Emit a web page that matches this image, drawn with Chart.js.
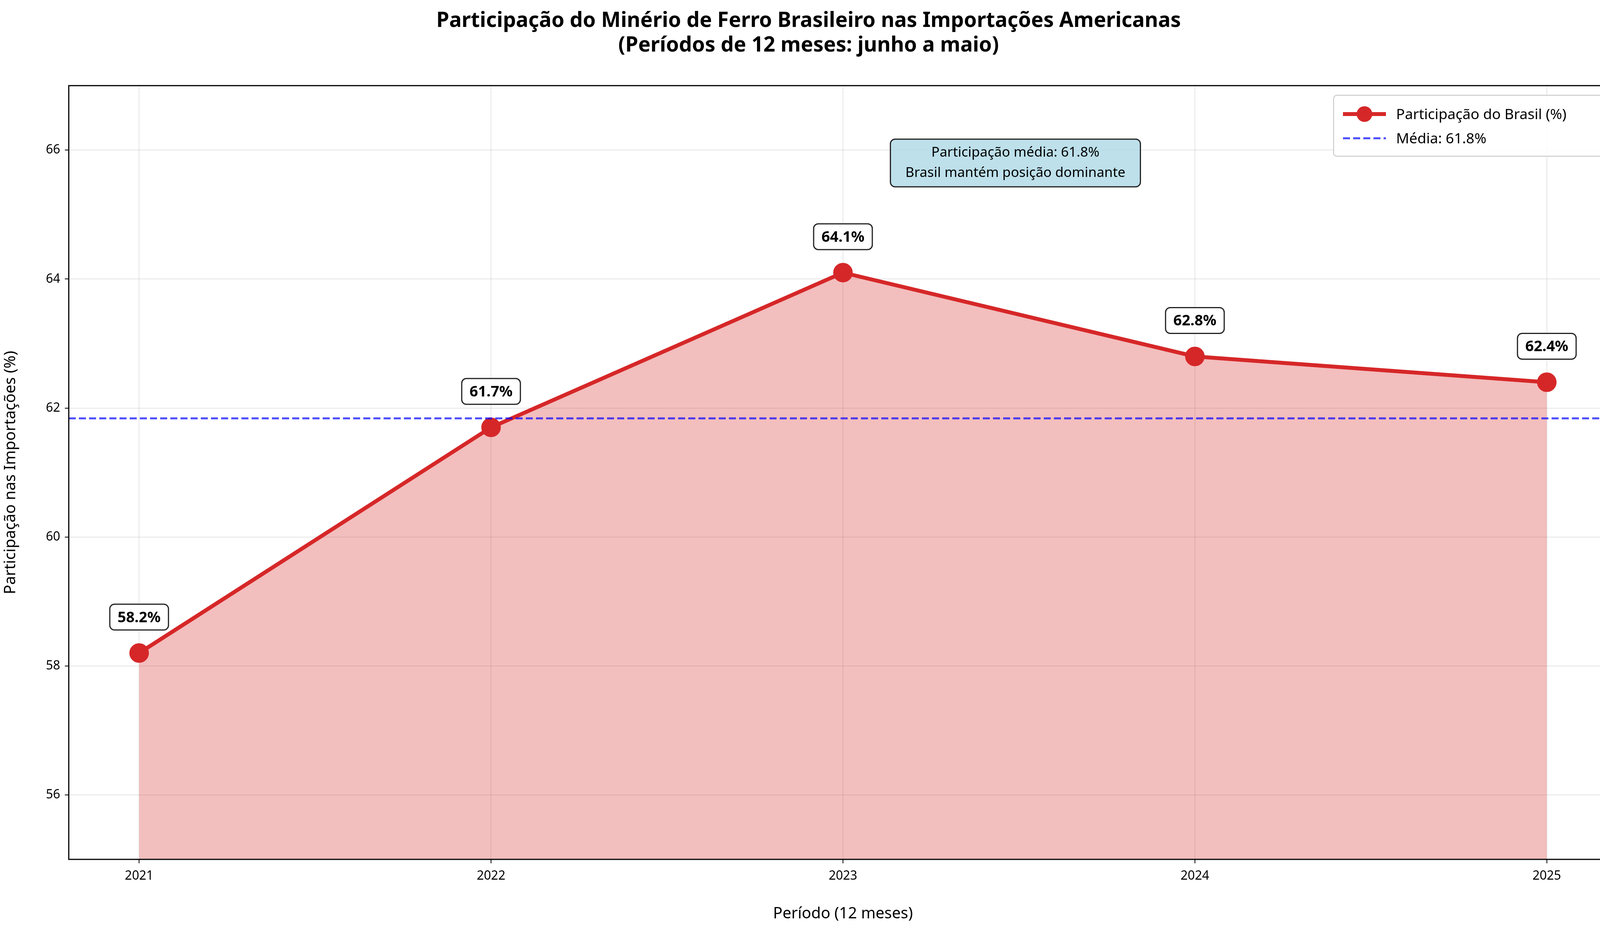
<!DOCTYPE html>
<html lang="pt">
<head>
<meta charset="UTF-8">
<title>Participação do Minério de Ferro Brasileiro</title>
<script src="https://cdn.jsdelivr.net/npm/chart.js"></script>
<style>html,body{margin:0;padding:0;background:#fff;overflow:hidden}canvas{display:block}</style>
</head>
<body>
<canvas id="myChart" width="4172" height="2368"></canvas>
<script>
// data
const periods = [2021, 2022, 2023, 2024, 2025];
const shares = [58.2, 61.7, 64.1, 62.8, 62.4];
const average = 61.84;
const yTicks = [56, 58, 60, 62, 64, 66];

const FONT = "'Noto Sans', 'DejaVu Sans', sans-serif";

// labels, annotation box, legend
const extras = {
    id: 'extras',
    afterDatasetsDraw(chart) {
        const ctx = chart.ctx;
        const xs = chart.scales.x, ys = chart.scales.y;
        const roundBox = (cx, cy, w, h, fill) => {
            ctx.beginPath();
            ctx.roundRect(cx - w / 2, cy - h / 2, w, h, 12);
            ctx.fillStyle = fill; ctx.fill();
            ctx.lineWidth = 3; ctx.strokeStyle = '#222'; ctx.stroke();
        };
        ctx.save();
        ctx.font = 'bold 38px ' + FONT;
        ctx.textAlign = 'center'; ctx.textBaseline = 'middle';
        shares.forEach((v, i) => {
            const px = xs.getPixelForValue(i), py = ys.getPixelForValue(v) - 92;
            const t = v.toFixed(1) + '%';
            const w = ctx.measureText(t).width + 40;
            roundBox(px, py, w, 66, '#fff');
            ctx.fillStyle = '#000'; ctx.fillText(t, px, py + 2);
        });
        // annotation
        const ax = xs.getPixelForValue(2.49), ay = ys.getPixelForValue(65.8);
        ctx.font = '35px ' + FONT;
        roundBox(ax, ay, 640, 122, 'rgba(173,216,230,0.8)');
        ctx.fillStyle = '#000';
        ctx.fillText('Participação média: ' + average.toFixed(1) + '%', ax, ay - 26);
        ctx.fillText('Brasil mantém posição dominante', ax, ay + 26);
        // legend
        const lx = 3414, ly = 244, lw = 704, lh = 156;
        ctx.beginPath(); ctx.roundRect(lx, ly, lw, lh, 8);
        ctx.fillStyle = 'rgba(255,255,255,0.85)'; ctx.fill();
        ctx.lineWidth = 2.5; ctx.strokeStyle = '#ccc'; ctx.stroke();
        ctx.textAlign = 'left'; ctx.font = '37px ' + FONT;
        let y1 = ly + 48;
        ctx.strokeStyle = '#d62728'; ctx.lineWidth = 10;
        ctx.beginPath(); ctx.moveTo(lx + 24, y1); ctx.lineTo(lx + 134, y1); ctx.stroke();
        ctx.beginPath(); ctx.arc(lx + 79, y1, 20, 0, Math.PI * 2); ctx.fillStyle = '#d62728'; ctx.fill();
        ctx.fillStyle = '#000'; ctx.fillText('Participação do Brasil (%)', lx + 160, y1 + 2);
        let y2 = ly + 110;
        ctx.strokeStyle = 'rgba(0,0,255,0.7)'; ctx.lineWidth = 5; ctx.setLineDash([18, 8]);
        ctx.beginPath(); ctx.moveTo(lx + 24, y2); ctx.lineTo(lx + 134, y2); ctx.stroke();
        ctx.setLineDash([]);
        ctx.fillStyle = '#000'; ctx.fillText('Média: ' + average.toFixed(1) + '%', lx + 160, y2 + 2);
        // frame
        const a = chart.chartArea;
        ctx.strokeStyle = '#000'; ctx.lineWidth = 3;
        ctx.strokeRect(a.left, a.top, a.right - a.left, a.bottom - a.top);
        ctx.restore();
    }
};

const ctx = document.getElementById('myChart').getContext('2d');
new Chart(ctx, {
    type: 'line',
    data: {
        datasets: [{
            label: 'Participação do Brasil (%)',
            data: shares.map((v, i) => ({x: i, y: v})),
            borderColor: '#d62728',
            backgroundColor: 'rgba(214,39,40,0.3)',
            pointBackgroundColor: '#d62728',
            pointBorderColor: '#d62728',
            pointRadius: 20,
            borderWidth: 10,
            fill: 'start',
            order: 1
        }, {
            label: 'Média: ' + average.toFixed(1) + '%',
            data: [{x: -0.2, y: average}, {x: 4.2, y: average}],
            borderColor: 'rgba(0,0,255,0.7)',
            borderWidth: 5,
            borderDash: [18, 8],
            pointRadius: 0,
            fill: false,
            order: 0
        }]
    },
    options: {
        responsive: false,
        animation: false,
        layout: {padding: {left: 0, right: 32, top: 0, bottom: 0}},
        plugins: {
            legend: {display: false},
            tooltip: {enabled: false},
            title: {
                display: true,
                text: ['Participação do Minério de Ferro Brasileiro nas Importações Americanas',
                       '(Períodos de 12 meses: junho a maio)'],
                font: {family: FONT, size: 53, weight: 'bold'},
                color: '#000',
                padding: {top: 22, bottom: 70},
                lineHeight: 1.2
            }
        },
        scales: {
            x: {
                type: 'linear', min: -0.2, max: 4.2,
                afterBuildTicks: s => { s.ticks = periods.map((p, i) => ({value: i})); },
                ticks: {callback: (v) => periods[v], font: {family: FONT, size: 32}, color: '#000', padding: 14},
                grid: {color: 'rgba(0,0,0,0.1)', lineWidth: 2, tickLength: 10, tickColor: '#000'},
                border: {display: false},
                title: {display: true, text: 'Período (12 meses)', font: {family: FONT, size: 40}, color: '#000', padding: {top: 4}},
                afterFit: s => { s.height = 168; }
            },
            y: {
                min: 55, max: 67,
                afterBuildTicks: s => { s.ticks = yTicks.map(v => ({value: v})); },
                ticks: {font: {family: FONT, size: 32}, color: '#000', padding: 12},
                grid: {color: 'rgba(0,0,0,0.1)', lineWidth: 2, tickLength: 10, tickColor: '#000'},
                border: {display: false},
                title: {display: true, text: 'Participação nas Importações (%)', font: {family: FONT, size: 40}, color: '#000', padding: {bottom: 0}},
                afterFit: s => { s.width = 176; }
            }
        }
    },
    plugins: [extras]
});
</script>
</body>
</html>
